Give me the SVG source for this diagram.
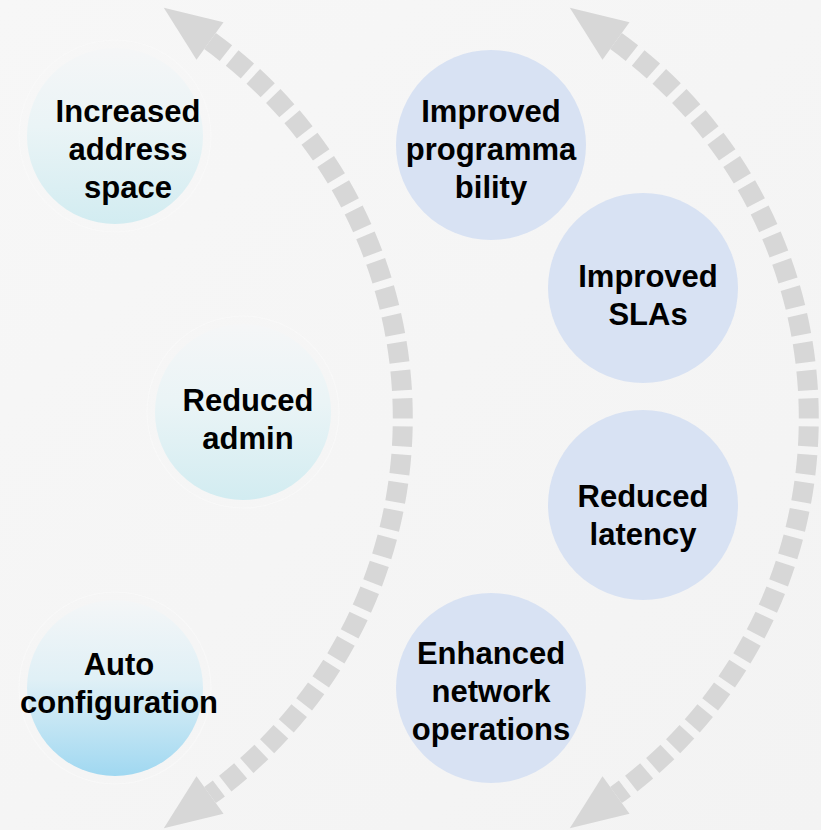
<svg xmlns="http://www.w3.org/2000/svg" width="821" height="830" viewBox="0 0 821 830">
  <defs>
    <linearGradient id="bg" x1="0" y1="0" x2="1" y2="1">
      <stop offset="0" stop-color="#F7F7F7"/>
      <stop offset="0.5" stop-color="#F5F5F5"/>
      <stop offset="1" stop-color="#F3F3F3"/>
    </linearGradient>
    <linearGradient id="cyan" x1="0" y1="0" x2="0" y2="1">
      <stop offset="0" stop-color="#F5F6F7"/>
      <stop offset="0.45" stop-color="#EAF4F6"/>
      <stop offset="1" stop-color="#D2ECF1"/>
    </linearGradient>
    <linearGradient id="cyan2" x1="0" y1="0" x2="0" y2="1">
      <stop offset="0" stop-color="#F4F6F7"/>
      <stop offset="0.45" stop-color="#E0F0F6"/>
      <stop offset="1" stop-color="#A0D8F1"/>
    </linearGradient>
  </defs>
  <style>
    .lbl { font-family: "Liberation Sans", Arial, sans-serif; font-weight: bold; font-size: 31px; fill: #000; text-anchor: middle; }
    .ring { fill: none; stroke: #FAFAFA; stroke-width: 1.2; stroke-opacity: 0.7; }
    .blue { fill: #D8E2F3; }
    .arc { fill: none; stroke: #D7D7D7; stroke-width: 20; stroke-dasharray: 20 8; }
    .head { fill: #D7D7D7; }
  </style>
  <rect x="0" y="0" width="821" height="830" fill="url(#bg)"/>

  <g id="connectors">
    <path class="arc" d="M210,41 A465,465 0 0 1 210,795"/>
    <polygon class="head" points="163.8,7.7 223.5,22.3 196.5,59.7"/>
    <polygon class="head" points="163.8,828.3 223.5,813.7 196.5,776.3"/>
    <path class="arc" d="M616,41 A465,465 0 0 1 616,795"/>
    <polygon class="head" points="569.8,7.7 629.5,22.3 602.5,59.7"/>
    <polygon class="head" points="569.8,828.3 629.5,813.7 602.5,776.3"/>
  </g>

  <g id="increased-address-space">
    <circle class="ring" cx="115" cy="136" r="96"/>
    <circle cx="115" cy="136" r="88" fill="url(#cyan)"/>
    <text class="lbl" x="128" y="122">Increased</text>
    <text class="lbl" x="128" y="160">address</text>
    <text class="lbl" x="128" y="198">space</text>
  </g>

  <g id="reduced-admin">
    <circle class="ring" cx="243" cy="412" r="96"/>
    <circle cx="243" cy="412" r="88" fill="url(#cyan)"/>
    <text class="lbl" x="248" y="411">Reduced</text>
    <text class="lbl" x="248" y="449">admin</text>
  </g>

  <g id="auto-configuration">
    <circle class="ring" cx="115" cy="688" r="96"/>
    <circle cx="115" cy="688" r="88" fill="url(#cyan2)"/>
    <text class="lbl" x="119" y="675">Auto</text>
    <text class="lbl" x="119" y="713">configuration</text>
  </g>

  <g id="improved-programmability">
    <circle class="blue" cx="491" cy="145" r="95"/>
    <text class="lbl" x="491" y="122">Improved</text>
    <text class="lbl" x="491" y="160">programma</text>
    <text class="lbl" x="491" y="198">bility</text>
  </g>

  <g id="improved-slas">
    <circle class="blue" cx="643" cy="288" r="95"/>
    <text class="lbl" x="648" y="287">Improved</text>
    <text class="lbl" x="648" y="325">SLAs</text>
  </g>

  <g id="reduced-latency">
    <circle class="blue" cx="643" cy="505" r="95"/>
    <text class="lbl" x="643" y="507">Reduced</text>
    <text class="lbl" x="643" y="545">latency</text>
  </g>

  <g id="enhanced-network-operations">
    <circle class="blue" cx="491" cy="688" r="95"/>
    <text class="lbl" x="491" y="664">Enhanced</text>
    <text class="lbl" x="491" y="702">network</text>
    <text class="lbl" x="491" y="740">operations</text>
  </g>
</svg>
